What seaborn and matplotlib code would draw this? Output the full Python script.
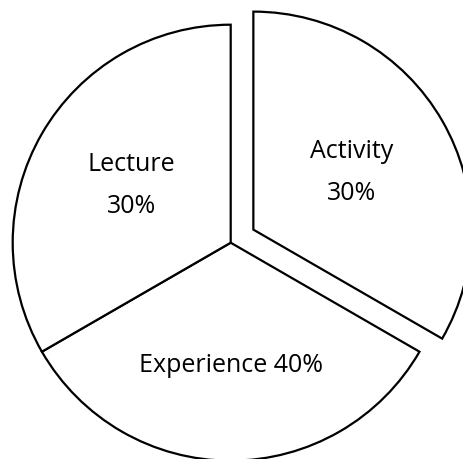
import matplotlib
matplotlib.use('Agg')
import numpy as np
import matplotlib.pyplot as plt
import seaborn as sns

# data (the source drew the three slices as equal thirds)
categories = ['Activity', 'Experience', 'Lecture']
shares = [30, 40, 30]
wedge_sizes = [1, 1, 1]
slice_labels = ['Activity\n30%', 'Experience 40%', 'Lecture\n30%']
explode = [0.12, 0, 0]
label_dist = [0.52, 0.565, 0.525]

sns.set_theme(style='white')
plt.rcParams['font.family'] = ['Open Sans', 'DejaVu Sans']

fig = plt.figure(figsize=(4.64, 4.59), dpi=100)
ax = fig.add_axes([0, 0, 1, 1])

wedges, texts = ax.pie(
    wedge_sizes, labels=slice_labels, explode=explode,
    startangle=90, counterclock=False,
    colors=['white'] * len(wedge_sizes),
    wedgeprops=dict(edgecolor='black', linewidth=1.6),
    textprops=dict(ha='center', va='center', fontsize=18, color='black',
                   linespacing=1.9),
)

# move each label to its own distance along the wedge's middle angle
for w, t, d in zip(wedges, texts, label_dist):
    mid = np.deg2rad((w.theta1 + w.theta2) / 2)
    cx, cy = w.center
    t.set_position((cx + d * w.r * np.cos(mid), cy + d * w.r * np.sin(mid)))

# radius 218 px, centre at (230.7, 242.7) px from top-left
r = 218.0
ax.set_xlim(-230.7 / r, (464 - 230.7) / r)
ax.set_ylim(-(459 - 242.7) / r, 242.7 / r)
ax.set_aspect('auto')
ax.axis('off')

fig.savefig('out.png', dpi=100, facecolor='white')
